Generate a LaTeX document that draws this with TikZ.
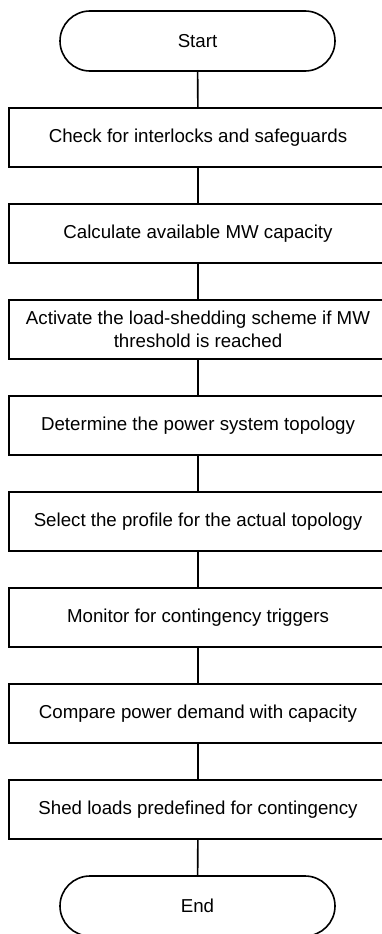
\documentclass[tikz,border=0pt]{standalone}
\usepackage{fontspec}
\setmainfont{Liberation Sans}
\begin{document}
\begin{tikzpicture}[x=1pt,y=-1pt,
  stepbox/.style={draw, line width=1.6pt, minimum width=378pt, minimum height=59pt, inner sep=0pt, align=center, font=\fontsize{18.7}{22.4}\selectfont},
  term/.style={draw, line width=1.6pt, minimum width=275pt, minimum height=60pt, rounded corners=30pt, inner sep=0pt, font=\fontsize{18.7}{22.4}\selectfont},
  link/.style={line width=1.6pt}]
\useasboundingbox (0,0) rectangle (382,934);
\clip (0,0) rectangle (382,934);
\node[term] (start) at (197.5,41) {Start};
\node[stepbox] (b1) at (198,137.5) {Check for interlocks and safeguards};
\node[stepbox] (b2) at (198,233.5) {Calculate available MW capacity};
\node[stepbox] (b3) at (198,329.5) {Activate the load-shedding scheme if MW\\threshold is reached};
\node[stepbox] (b4) at (198,425.5) {Determine the power system topology};
\node[stepbox] (b5) at (198,521.5) {Select the profile for the actual topology};
\node[stepbox] (b6) at (198,617.5) {Monitor for contingency triggers};
\node[stepbox] (b7) at (198,713.5) {Compare power demand with capacity};
\node[stepbox] (b8) at (198,809.5) {Shed loads predefined for contingency};
\node[term] (end) at (197.5,906) {End};
\draw[link] (start) -- (b1);
\draw[link] (b1) -- (b2);
\draw[link] (b2) -- (b3);
\draw[link] (b3) -- (b4);
\draw[link] (b4) -- (b5);
\draw[link] (b5) -- (b6);
\draw[link] (b6) -- (b7);
\draw[link] (b7) -- (b8);
\draw[link] (b8) -- (end);
\end{tikzpicture}
\end{document}
